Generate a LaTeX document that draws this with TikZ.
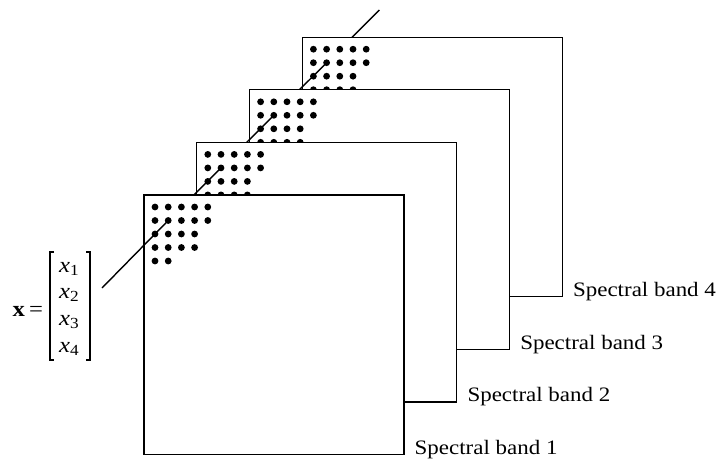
\documentclass[tikz,border=0pt]{standalone}
\usepackage{fontspec}
\setmainfont{Liberation Serif}[FakeStretch=1.12]
\usetikzlibrary{calc}
\newcommand\pixgrid[1]{%
  \foreach \j/\n in {0/4,1/4,2/3,3/3,4/1}{%
    \foreach \i in {0,...,\n}{%
      \fill ($(#1.north west)+(11+13.2*\i,12+13.5*\j)$) circle (3.4pt);}}}
\begin{document}
\begin{tikzpicture}[x=1pt,y=-1pt,
  band/.style={draw, fill=white, line width=1.3pt, minimum width=260pt,
    minimum height=259.5pt, anchor=north west, inner sep=0pt, outer sep=0pt},
  ray/.style={line width=1.4pt},
  brk/.style={line width=1.2pt},
  lab/.style={anchor=base west, inner sep=0pt, font=\fontsize{20.5}{24}\selectfont},
  entry/.style={anchor=base west, inner sep=0pt, font=\fontsize{22}{26}\selectfont}]
\useasboundingbox (0,0) rectangle (720,461);
% band corners and pierced pixels
\coordinate (c1) at (144,195);
\coordinate (c2) at (196.8,142.4);
\coordinate (c3) at (249.6,89.8);
\coordinate (c4) at (302.4,37.2);
\coordinate (d1) at ($(c1)+(24.2,25.5)$);
\coordinate (d2) at ($(c2)+(24.2,25.5)$);
\coordinate (d3) at ($(c3)+(24.2,25.5)$);
\coordinate (d4) at ($(c4)+(24.2,25.5)$);
\coordinate (vstart) at (102,288);
\coordinate (vend) at (379.3,10);
% back to front
\draw[ray] (d4) -- (vend);
\node[band] (b4) at (c4) {};
\pixgrid{b4}
\draw[ray] (d3) -- (d4);
\node[band] (b3) at (c3) {};
\pixgrid{b3}
\draw[ray] (d2) -- (d3);
\node[band] (b2) at (c2) {};
\pixgrid{b2}
\draw[ray] (d1) -- (d2);
\node[band] (b1) at (c1) {};
\pixgrid{b1}
\draw[ray] (vstart) -- (d1);
% labels
\node[lab] (l4) at ($(b4.south east)+(10.5,0)$) {Spectral band 4};
\node[lab] (l3) at ($(b3.south east)+(10.5,0)$) {Spectral band 3};
\node[lab] (l2) at ($(b2.south east)+(10.5,0)$) {Spectral band 2};
\node[lab] (l1) at ($(b1.south east)+(10.5,0)$) {Spectral band 1};
% pixel vector
\node[entry] (xb) at (12.5,316) {\textbf{x}};
\node[entry] (eq) at (29,316) {=};
\node[entry] (x1) at (59,272) {\textit{x}\textsubscript{1}};
\node[entry] (x2) at (59,298.7) {\textit{x}\textsubscript{2}};
\node[entry] (x3) at (59,325.4) {\textit{x}\textsubscript{3}};
\node[entry] (x4) at (59,352) {\textit{x}\textsubscript{4}};
\draw[brk] (54,252) -- (50,252) -- (50,360) -- (54,360);
\draw[brk] (86,252) -- (90,252) -- (90,360) -- (86,360);
\end{tikzpicture}
\end{document}
